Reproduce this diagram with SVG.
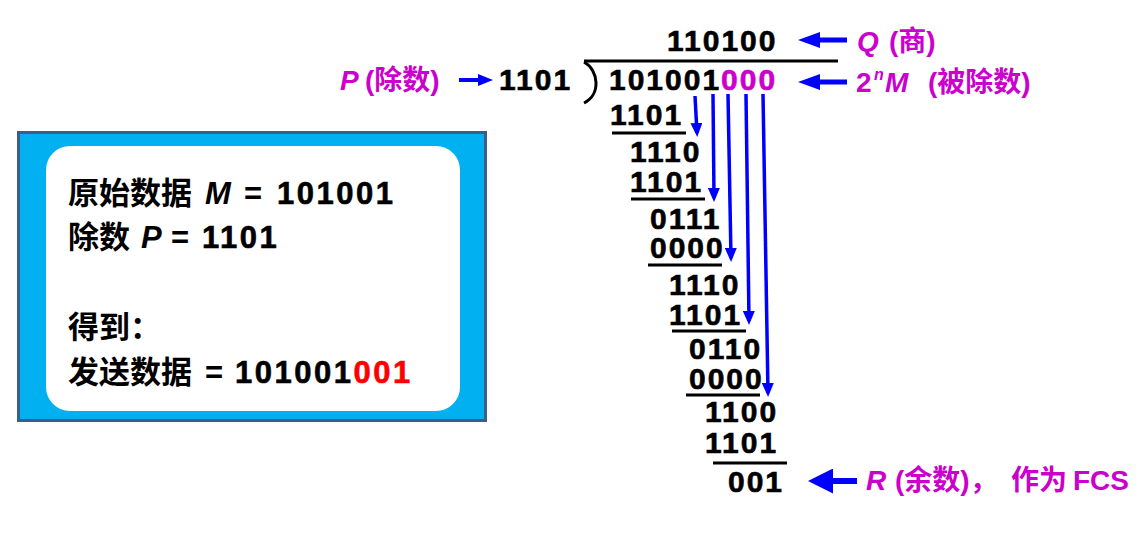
<svg xmlns="http://www.w3.org/2000/svg" width="1139" height="535" viewBox="0 0 1139 535">
<style>
text{font-family:"Liberation Sans","Noto Sans CJK SC",sans-serif;font-weight:bold}
.num{font-size:30px;letter-spacing:2px;fill:#000;stroke:#000;stroke-width:0.6}
.mag{fill:#CC00CC;font-size:28px}
.it{font-style:italic}
.cjk{font-family:"Noto Sans CJK SC",sans-serif}
.rule{stroke:#000;stroke-width:3}
.blue{stroke:#0000FF;fill:none}
.box{font-size:31px;fill:#000}
.bd{font-size:31px;letter-spacing:2.5px;stroke-width:0.6}
</style>
<defs>
<marker id="sh" markerUnits="userSpaceOnUse" markerWidth="14" markerHeight="12" refX="10" refY="6" orient="auto"><path d="M0,0 L14,6 L0,12 z" fill="#0000FF"/></marker>
<marker id="bh" markerUnits="userSpaceOnUse" markerWidth="22" markerHeight="16" refX="5" refY="8" orient="auto"><path d="M0,0 L22,8 L0,16 z" fill="#0000FF"/></marker>
<marker id="ph" markerUnits="userSpaceOnUse" markerWidth="15" markerHeight="12" refX="4" refY="6" orient="auto"><path d="M0,0 L15,6 L0,12 z" fill="#0000FF"/></marker>
<marker id="rh" markerUnits="userSpaceOnUse" markerWidth="25" markerHeight="25" refX="6" refY="12.5" orient="auto"><path d="M0,0 L25,12.5 L0,25 z" fill="#0000FF"/></marker>
</defs>

<g id="info-box">
<rect x="18.5" y="132.5" width="467" height="288" fill="#00B0F0" stroke="#3B5E8C" stroke-width="3"/>
<rect x="46" y="146" width="414" height="265" rx="24" fill="#FFFFFF"/>
<text class="box" y="204"><tspan class="cjk" x="68">原始数据</tspan><tspan class="it" x="205">M</tspan><tspan x="244">=</tspan><tspan class="bd" x="277" stroke="#000">101001</tspan></text>
<text class="box" y="248"><tspan class="cjk" x="68">除数</tspan><tspan class="it" x="141">P</tspan><tspan x="171">=</tspan><tspan class="bd" x="202" stroke="#000">1101</tspan></text>
<text class="box" y="338"><tspan class="cjk" x="68">得到：</tspan></text>
<text class="box" y="383"><tspan class="cjk" x="68">发送数据</tspan><tspan x="205">=</tspan><tspan class="bd" x="235" stroke="#000">101001</tspan><tspan class="bd" fill="#FF0000" stroke="#FF0000">001</tspan></text>
</g>

<g id="division">
<text class="num" x="667" y="51">110100</text>
<text class="num" x="499" y="90">1101</text>
<line class="rule" x1="584" y1="61" x2="838" y2="61"/>
<path d="M584,62 C599,70 601,95 584,103" fill="none" stroke="#000" stroke-width="3"/>
<text class="num" x="609" y="90">101001<tspan fill="#CC00CC" stroke="#CC00CC">000</tspan></text>
<text class="num" x="610" y="125">1101</text>
<line class="rule" x1="612" y1="133" x2="686" y2="133"/>
<text class="num" x="630" y="162">1110</text>
<text class="num" x="630" y="192">1101</text>
<line class="rule" x1="631" y1="199" x2="705" y2="199"/>
<text class="num" x="650" y="229">0111</text>
<text class="num" x="650" y="258">0000</text>
<line class="rule" x1="648" y1="265" x2="722" y2="265"/>
<text class="num" x="669" y="295">1110</text>
<text class="num" x="669" y="325">1101</text>
<line class="rule" x1="672" y1="331" x2="746" y2="331"/>
<text class="num" x="689" y="359">0110</text>
<text class="num" x="689" y="389">0000</text>
<line class="rule" x1="686" y1="395" x2="760" y2="395"/>
<text class="num" x="705" y="422">1100</text>
<text class="num" x="705" y="453">1101</text>
<line class="rule" x1="713" y1="463" x2="787" y2="463"/>
<text class="num" x="728" y="492">001</text>
</g>

<g id="connectors">
<line class="blue" stroke-width="3.5" x1="695" y1="96" x2="697" y2="133" marker-end="url(#sh)"/>
<line class="blue" stroke-width="3.5" x1="713" y1="94" x2="714" y2="198" marker-end="url(#sh)"/>
<line class="blue" stroke-width="3.5" x1="728" y1="94" x2="731" y2="258" marker-end="url(#sh)"/>
<line class="blue" stroke-width="3.5" x1="746" y1="94" x2="749" y2="321" marker-end="url(#sh)"/>
<line class="blue" stroke-width="3.5" x1="763" y1="94" x2="768" y2="393" marker-end="url(#sh)"/>
<line class="blue" stroke-width="5" x1="847" y1="40" x2="815" y2="40" marker-end="url(#bh)"/>
<line class="blue" stroke-width="5" x1="847" y1="82" x2="815" y2="82" marker-end="url(#bh)"/>
<line class="blue" stroke-width="4" x1="459" y1="80" x2="482" y2="80" marker-end="url(#ph)"/>
<line class="blue" stroke-width="6" x1="857" y1="481" x2="827" y2="481" marker-end="url(#rh)"/>
</g>

<g id="labels">
<text class="mag" y="51"><tspan class="it" x="857">Q</tspan><tspan x="889">(</tspan><tspan class="cjk">商</tspan><tspan>)</tspan></text>
<text class="mag" y="92"><tspan x="856">2</tspan><tspan class="it" x="874" y="80" font-size="16">n</tspan><tspan class="it" x="885" y="92">M</tspan><tspan x="928">(</tspan><tspan class="cjk">被除数</tspan><tspan>)</tspan></text>
<text class="mag" y="90"><tspan class="it" x="340">P</tspan><tspan x="365">(</tspan><tspan class="cjk">除数</tspan><tspan>)</tspan></text>
<text class="mag" y="490"><tspan class="it" x="866">R</tspan><tspan x="895">(</tspan><tspan class="cjk">余数</tspan><tspan>)</tspan><tspan class="cjk">，</tspan><tspan class="cjk" x="1011">作为</tspan><tspan x="1073">FCS</tspan></text>
</g>
</svg>
